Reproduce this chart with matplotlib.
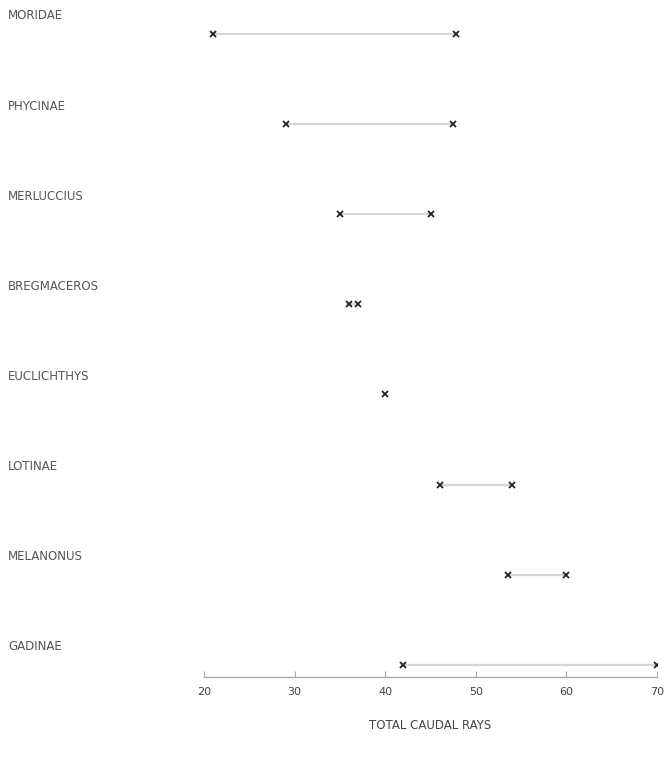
import matplotlib
matplotlib.use("Agg")
import matplotlib.pyplot as plt
from matplotlib.transforms import blended_transform_factory

categories = ["MORIDAE", "PHYCINAE", "MERLUCCIUS", "BREGMACEROS",
              "EUCLICHTHYS", "LOTINAE", "MELANONUS", "GADINAE"]
range_min = [21, 29, 35, 36, 40, 46, 53.5, 42]
range_max = [47.8, 47.5, 45, 37, 40, 54, 60, 70]
xticks = [20, 30, 40, 50, 60, 70]

fig = plt.figure(figsize=(6.67, 7.61), dpi=100)
ax = fig.add_axes([204/667, 84/761, (657-204)/667, 677/761])

for i, (lo, hi) in enumerate(zip(range_min, range_max)):
    if hi > lo:
        ax.plot([lo, hi], [i, i], color="#d6d6d6", lw=1.6, solid_capstyle="butt", zorder=1)
        xs, ys = [lo, hi], [i, i]
    else:
        xs, ys = [lo], [i]
    ax.plot(xs, ys, linestyle="none", marker="x", ms=4.5, mew=1.3,
            color="#222222", zorder=3)

ax.set_xlim(20, 70)
ax.set_ylim(7.136, -0.377)

for s in ["top", "right", "left"]:
    ax.spines[s].set_visible(False)
ax.spines["bottom"].set_color("#aaaaaa")
ax.spines["bottom"].set_linewidth(1.0)
ax.set_yticks([])
ax.set_xticks(xticks)
ax.set_xticklabels([str(t) for t in xticks])
ax.tick_params(axis="x", direction="in", length=4, width=0.8, color="#aaaaaa",
               labelsize=8, labelcolor="#444444", pad=7)

ax.set_xlabel("TOTAL CAUDAL RAYS", fontsize=8.5, color="#444444", labelpad=16)

trans = blended_transform_factory(fig.transFigure, ax.transData)
for i, name in enumerate(categories):
    ax.text(8/667, i - 0.2, name, transform=trans, ha="left", va="center",
            fontsize=8.5, color="#555555", clip_on=False)

fig.savefig("out.png", dpi=100, facecolor="white")
